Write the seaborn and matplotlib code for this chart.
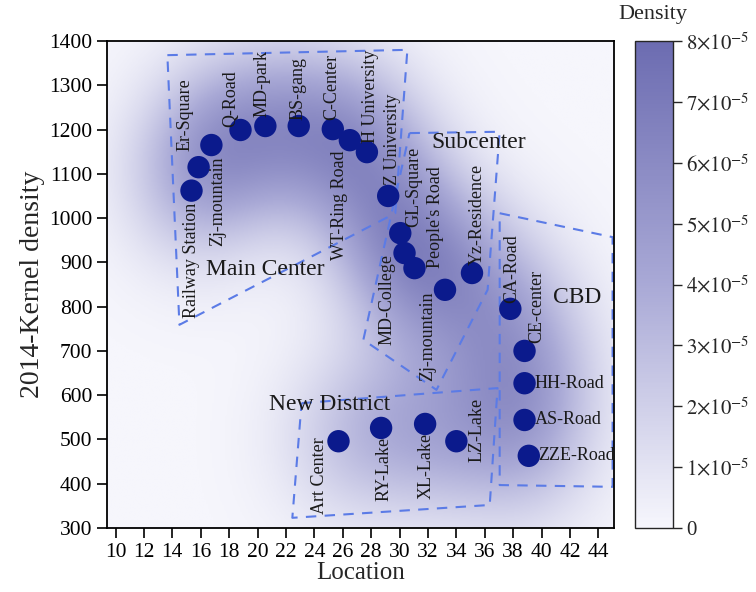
import numpy as np
import pandas as pd
import matplotlib
matplotlib.use('Agg')
import matplotlib.pyplot as plt
import seaborn as sns
from matplotlib.colors import LinearSegmentedColormap, Normalize
from matplotlib.cm import ScalarMappable

# Site locations (x = location, y = 2014 kernel density)
names = ['Railway Station', 'Er-Square', 'Zj-mountain', 'Q-Road', 'MD-park', 'BS-gang',
         'C-Center', 'WT-Ring Road', 'H University', 'Z University', 'GL-Square',
         'MD-College', "People's Road", 'Zj-mountain', 'Yz-Residence', 'CA-Road',
         'CE-center', 'HH-Road', 'AS-Road', 'ZZE-Road', 'Art Center', 'RY-Lake',
         'XL-Lake', 'LZ-Lake']
loc_x = [15.35, 15.85, 16.75, 18.8, 20.55, 22.9, 25.3, 26.5, 27.7, 29.2, 30.05,
         30.35, 31.05, 33.2, 35.1, 37.8, 38.8, 38.8, 38.8, 39.1, 25.7, 28.7, 31.8, 34.0]
loc_y = [1062, 1115, 1165, 1199, 1208, 1208, 1201, 1176, 1149, 1050, 966,
         921, 887, 838, 876, 795, 700, 627, 544, 463, 496, 526, 535, 496]

# Region outlines
main_x = [13.65, 30.55, 29.7, 14.5]
main_y = [1368, 1380, 1011, 759]
sub_x = [30.7, 37.05, 36.2, 32.6, 27.45]
sub_y = [1192, 1195, 838, 612, 725]
cbd_x = [37.05, 45.0, 45.0, 37.05]
cbd_y = [1011, 957, 393, 397]
new_x = [23.1, 36.9, 36.35, 22.45]
new_y = [582, 616, 352, 323]

region_names = ['Main Center', 'Subcenter', 'CBD', 'New District']
region_x = [20.55, 35.6, 42.5, 25.1]
region_y = [883, 1170, 820, 578]

df = pd.DataFrame({'name': names, 'x': loc_x, 'y': loc_y})

# label layout: (dx px, dy px, rotation, ha, va)
label_pos = [(0, -12, 90, 'center', 'top'), (-14, 16, 90, 'center', 'bottom'),
             (6, -11, 90, 'center', 'top'), (-10, 3, 90, 'center', 'bottom'),
             (-3, 9, 90, 'center', 'bottom'), (-1, 6, 90, 'center', 'bottom'),
             (-1, 9, 90, 'center', 'bottom'), (-10, -10, 90, 'center', 'top'),
             (4, 9, 90, 'center', 'bottom'), (4, 11, 90, 'center', 'bottom'),
             (13, 6, 90, 'center', 'bottom'), (-18, -1, 90, 'center', 'top'),
             (21, 0, 90, 'center', 'bottom'), (-17, -2, 90, 'center', 'top'),
             (5, 8, 90, 'center', 'bottom'), (1, 6, 90, 'center', 'bottom'),
             (12, 8, 90, 'center', 'bottom'), (10, 0, 0, 'left', 'center'),
             (10, 0, 0, 'left', 'center'), (9, 0, 0, 'left', 'center'),
             (-19, 4, 90, 'center', 'top'), (3, -9, 90, 'center', 'top'),
             (1, -9, 90, 'center', 'top'), (21, 11, 90, 'center', 'center')]

sns.set_style('ticks')
plt.rcParams['font.family'] = ['Liberation Serif', 'DejaVu Serif']
plt.rcParams['mathtext.fontset'] = 'stix'

fig = plt.figure(figsize=(7.56, 5.92), dpi=100)
ax = fig.add_axes([107/756, 64/592, 507/756, 487/592])
cax = fig.add_axes([635/756, 64/592, 38/756, 487/592])

xlim = (9.4, 45.1)
ylim = (300, 1400)
cmap = LinearSegmentedColormap.from_list('dens', ['#f6f6fc', '#a9a9d6', '#6c6cb1'])
norm = Normalize(0, 8e-5)

# 2D gaussian kernel density (axis-aligned bandwidths, normal-reference rule)
px_ = np.asarray(loc_x)
py_ = np.asarray(loc_y)
n = len(px_)
def nrd(v):
    iqr = np.subtract(*np.percentile(v, [75, 25]))
    return 0.9 * 1.06 * min(np.std(v, ddof=1), iqr / 1.34) * n ** (-0.2)
hx, hy = nrd(px_), nrd(py_)
gx = np.linspace(*xlim, 300)
gy = np.linspace(*ylim, 300)
kx = np.exp(-0.5 * ((gx[None, :] - px_[:, None]) / hx) ** 2) / (np.sqrt(2 * np.pi) * hx)
ky = np.exp(-0.5 * ((gy[None, :] - py_[:, None]) / hy) ** 2) / (np.sqrt(2 * np.pi) * hy)
dens = ky.T @ kx / n
ax.imshow(dens, extent=(*xlim, *ylim), origin='lower', aspect='auto', cmap=cmap,
          norm=norm, interpolation='bilinear', zorder=0)

dash = dict(color='#5b7be6', lw=1.5, ls=(0, (5, 4)))
for px, py in [(main_x, main_y), (sub_x, sub_y), (cbd_x, cbd_y), (new_x, new_y)]:
    ax.plot(px + px[:1], py + py[:1], **dash)

sns.scatterplot(data=df, x='x', y='y', s=260, color='#0b1a8c', edgecolor='none',
                ax=ax, zorder=5)

for nm, xv, yv, (dx, dy, rot, ha, va) in zip(names, loc_x, loc_y, label_pos):
    ax.annotate(nm, (xv, yv), xytext=(dx, dy), textcoords='offset pixels',
                rotation=rot, ha=ha, va=va, fontsize=13, color='#1a1a1a', zorder=6)

for nm, xv, yv in zip(region_names, region_x, region_y):
    ax.text(xv, yv, nm, ha='center', va='center', fontsize=17, color='#1a1a1a', zorder=6)

ax.set_xlim(xlim)
ax.set_ylim(ylim)
ax.set_xticks(np.arange(10, 45, 2))
ax.set_yticks(np.arange(300, 1401, 100))
ax.set_xlabel('Location', fontsize=18, labelpad=0)
ax.set_ylabel('2014-Kernel density', fontsize=20, labelpad=3)
ax.tick_params(direction='out', length=7, width=1.2, labelsize=15.5, colors='black')
for sp in ax.spines.values():
    sp.set_visible(True)
    sp.set_linewidth(1.3)
    sp.set_color('black')

cb = fig.colorbar(ScalarMappable(norm=norm, cmap=cmap), cax=cax)
ticks = np.arange(0, 9) * 1e-5
cb.set_ticks(ticks)
cb.set_ticklabels(['0'] + [r'$%d{\times}10^{-5}$' % k for k in range(1, 9)])
cax.tick_params(direction='out', length=6.5, width=1, labelsize=15, pad=3)
cb.outline.set_linewidth(1)
fig.text(653/756, 1 - 15/592, 'Density', ha='center', va='center', fontsize=16)

fig.savefig('out.png', dpi=100)
